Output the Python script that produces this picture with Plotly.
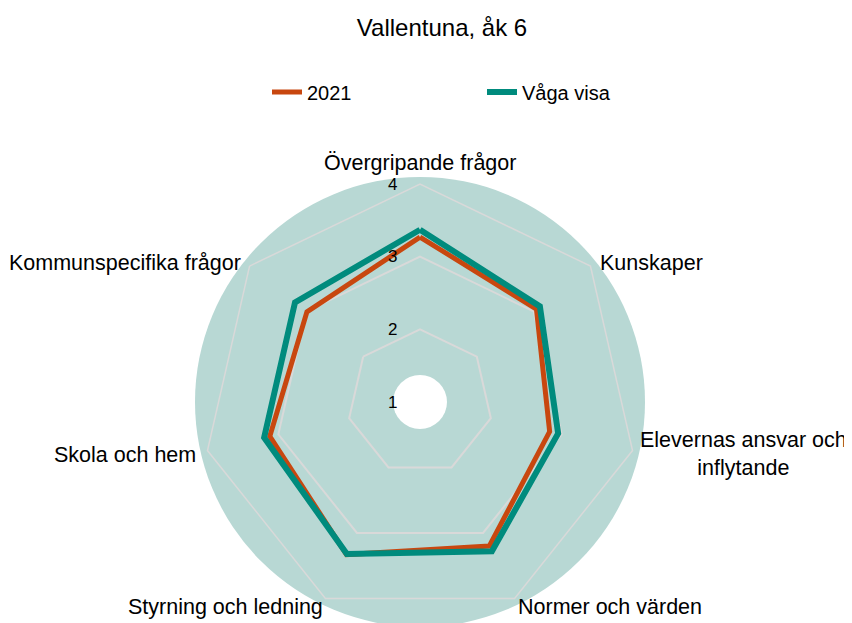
import plotly.graph_objects as go

categories = ["Övergripande frågor", "Kunskaper", "Elevernas ansvar och inflytande",
              "Normer och värden", "Styrning och ledning", "Skola och hem",
              "Kommunspecifika frågor"]
values_2021 = [3.27, 3.05, 2.83, 3.20, 3.33, 3.12, 2.99]
values_vaga = [3.37, 3.11, 2.95, 3.28, 3.32, 3.20, 3.20]
radial_ticks = [1, 2, 3, 4]

W, H = 852, 623
OFF = 8  # page body margin in the browser
cx, cy, R = 420 - OFF, 402 - OFF, 218
Rc, Rh = 225, 27

FONT = "Arial, Liberation Sans, sans-serif"
fig = go.Figure()

def closed(v):
    return v + [v[0]]

fig.add_trace(go.Scatterpolar(
    r=closed(values_2021), theta=closed(categories), mode="lines", name="2021",
    line=dict(color="#C8470F", width=5), hoverinfo="skip"))
fig.add_trace(go.Scatterpolar(
    r=closed(values_vaga), theta=closed(categories), mode="lines", name="Våga visa",
    line=dict(color="#008B7D", width=6), hoverinfo="skip"))

def px(x):
    return (x - OFF) / W

def py(y):
    return 1 - (y - OFF) / H

# category label placement (screen pixels): (x, y, xanchor, text)
label_pos = [
    (420, 163, "center", "Övergripande frågor"),
    (598, 263, "left", "Kunskaper"),
    (743, 454, "center", "Elevernas ansvar och<br>inflytande"),
    (610, 607, "center", "Normer och värden"),
    (226, 607, "center", "Styrning och ledning"),
    (198, 455, "right", "Skola och hem"),
    (243, 263, "right", "Kommunspecifika frågor"),
]
annotations = [
    dict(text=t, x=px(x), y=py(y), xref="paper", yref="paper", xanchor=a, yanchor="middle",
         showarrow=False, align="center", font=dict(size=21.5, family=FONT, color="#000000"))
    for (x, y, a, t) in label_pos
]

fig.update_layout(
    width=W, height=H,
    margin=dict(l=0, r=0, t=0, b=0),
    paper_bgcolor="white",
    font=dict(family=FONT, size=21, color="#000000"),
    title=dict(text="Vallentuna, åk 6", x=px(442), xanchor="center", y=py(28), yanchor="middle",
               font=dict(size=24, family=FONT, color="#000000")),
    showlegend=True,
    legend=dict(orientation="h", x=0.5 + 48 / W, xanchor="center", y=py(92), yanchor="middle",
                font=dict(size=20, family=FONT), entrywidth=170, entrywidthmode="pixels",
                bgcolor="rgba(0,0,0,0)"),
    polar=dict(
        domain=dict(x=[(cx - R) / W, (cx + R) / W], y=[(H - cy - R) / H, (H - cy + R) / H]),
        bgcolor="rgba(0,0,0,0)",
        gridshape="linear",
        radialaxis=dict(range=[1, 4], tickvals=radial_ticks, angle=90, tickangle=90,
                        side="counterclockwise", showline=False, ticks="outside", ticklen=16,
                        tickcolor="rgba(0,0,0,0)", gridcolor="#D9D9D9", gridwidth=1.5,
                        tickfont=dict(size=17, family=FONT, color="#000000")),
        angularaxis=dict(rotation=90, direction="clockwise", showgrid=False, showline=True,
                         linecolor="#D9D9D9", linewidth=1.5, ticks="", showticklabels=False),
    ),
    annotations=annotations,
    shapes=[
        dict(type="circle", xref="paper", yref="paper", layer="below",
             x0=(cx - Rc) / W, x1=(cx + Rc) / W, y0=(H - cy - Rc) / H, y1=(H - cy + Rc) / H,
             fillcolor="#B8D8D4", line=dict(width=0)),
        dict(type="circle", xref="paper", yref="paper", layer="below",
             x0=(cx - Rh) / W, x1=(cx + Rh) / W, y0=(H - cy - Rh) / H, y1=(H - cy + Rh) / H,
             fillcolor="#FFFFFF", line=dict(width=0)),
    ],
)

fig.write_html("out.html")
